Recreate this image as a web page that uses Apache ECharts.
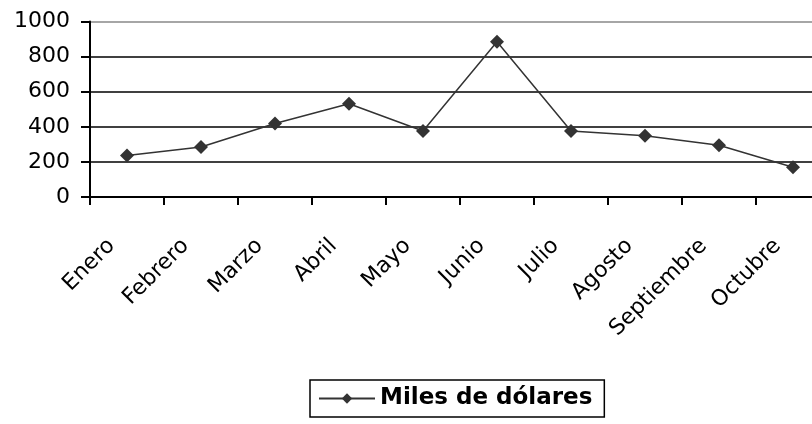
<!DOCTYPE html>
<html><head><meta charset="utf-8">
<script src="https://cdn.jsdelivr.net/npm/echarts@6/dist/echarts.min.js"></script>
<style>html,body{margin:0;padding:0;background:#fff;overflow:hidden;width:812px;height:424px}#c{width:830px;height:424px}</style>
</head><body><div id="c"></div>
<script>
const categories = ['Enero','Febrero','Marzo','Abril','Mayo','Junio','Julio','Agosto','Septiembre','Octubre'];
const values = [237, 285, 419, 531, 376, 885, 376, 349, 295, 169];
const seriesName = 'Miles de dólares';
const yTicks = {min: 0, max: 1000, interval: 200};
const FONT = 'DejaVu Sans';
const chart = echarts.init(document.getElementById('c'), null, {renderer: 'canvas'});
chart.setOption({
  animation: false,
  backgroundColor: '#fff',
  grid: {left: 90, right: 0, top: 21.5, bottom: 227, containLabel: false},
  legend: {
    data: [seriesName], left: 310, top: 380,
    padding: [7, 12, 7, 8],
    borderColor: '#000', borderWidth: 1.5, borderRadius: 0,
    itemWidth: 56, itemHeight: 13, itemGap: 4,
    textStyle: {fontFamily: FONT, fontSize: 23, fontWeight: 'bold', color: '#000'}
  },
  xAxis: {
    type: 'category', data: categories, boundaryGap: true,
    axisLine: {lineStyle: {color: '#000', width: 2}},
    axisTick: {show: true, length: 8, lineStyle: {color: '#000', width: 2}},
    axisLabel: {rotate: 45, interval: 0, margin: 30, padding: [0, 22, 0, 0], fontFamily: FONT, fontSize: 22, color: '#000'},
    splitLine: {show: false}
  },
  yAxis: {
    type: 'value', min: yTicks.min, max: yTicks.max, interval: yTicks.interval,
    axisLine: {show: true, lineStyle: {color: '#000', width: 2}},
    axisTick: {show: true, length: 9, lineStyle: {color: '#000', width: 2}},
    axisLabel: {margin: 20, fontFamily: FONT, fontSize: 22, color: '#000', formatter: v => String(v)},
    splitLine: {show: true, lineStyle: {color: ['#000','#000','#000','#000','#000','#888'], width: 1.6}}
  },
  series: [{
    name: seriesName, type: 'line', data: values,
    symbol: 'diamond', symbolSize: 14,
    lineStyle: {color: '#333', width: 1.5},
    itemStyle: {color: '#333'}
  }]
});
</script></body></html>
